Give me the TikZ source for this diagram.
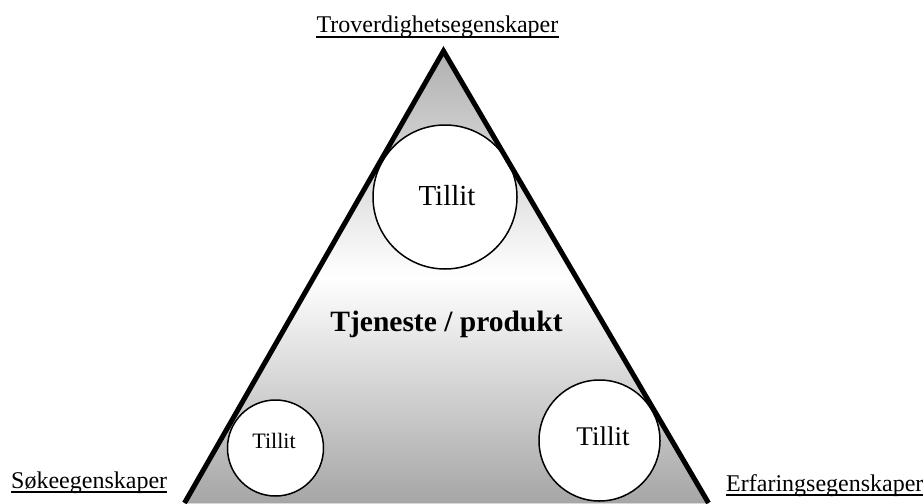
\documentclass[tikz,border=0pt]{standalone}
\usepackage{fontspec}
\setmainfont{Liberation Serif}
\begin{document}
\begin{tikzpicture}[x=1pt,y=-1pt,
  lab/.style={inner sep=0pt, font=\fontsize{24}{28}\selectfont},
  trust/.style={circle, draw, fill=white, line width=1.5pt, inner sep=0pt},
  uline/.style={line width=1.5pt}]
\useasboundingbox (0,0) rectangle (923,503);
% triangle corners (base runs along the lower edge)
\coordinate (apex) at (443.5,51);
\coordinate (bl) at (184.5,503);
\coordinate (br) at (708.5,503);
\fill[top color=black!31, bottom color=black!35, middle color=white]
  (apex) -- (bl) -- (br) -- cycle;
% trust circles
\node[trust, minimum size=144pt] (c1) at (445,197) {};
\node[trust, minimum size=96pt] (c2) at (275.5,448) {};
\node[trust, minimum size=121pt] (c3) at (599.5,440.5) {};
\node[anchor=base, inner sep=0pt, font=\fontsize{29}{34}\selectfont] (t1) at (447,205) {Tillit};
\node[anchor=base, inner sep=0pt, font=\fontsize{22}{26}\selectfont] (t2) at (274,448) {Tillit};
\node[anchor=base, inner sep=0pt, font=\fontsize{27}{32}\selectfont] (t3) at (603,445) {Tillit};
% triangle sides
\draw[line width=5pt, line join=miter] (bl) -- (apex) -- (br);
% centre label
\node[anchor=base, inner sep=0pt, font=\fontsize{29.5}{34}\selectfont\bfseries] (tp) at (446.5,331) {Tjeneste / produkt};
% corner labels
\node[lab, anchor=base] (tv) at (437.5,33) {Troverdighetsegenskaper};
\node[lab, anchor=base west] (sk) at (11,488) {Søkeegenskaper};
\node[lab, anchor=base west] (ef) at (726,491) {Erfaringsegenskaper};
\draw[uline] ([yshift=-4pt]tv.base west) -- ([yshift=-4pt]tv.base east);
\draw[uline] ([yshift=-4pt]sk.base west) -- ([yshift=-4pt]sk.base east);
\draw[uline] ([yshift=-4pt]ef.base west) -- ([yshift=-4pt]ef.base east);
\end{tikzpicture}
\end{document}
